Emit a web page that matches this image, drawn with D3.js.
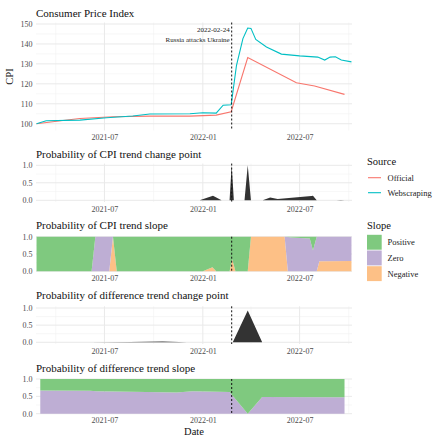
<!DOCTYPE html>
<html>
<head>
<meta charset="utf-8">
<script src="https://cdn.jsdelivr.net/npm/d3@7"></script>
<style>
  body { margin: 0; background: #fff; }
  svg text { font-family: "Liberation Serif", "Times New Roman", serif; }
</style>
</head>
<body>
<svg width="434" height="436"></svg>
<script>
// ---- data ----
const officialDates = ['2021-02-24', '2021-04-22', '2021-05-16', '2021-07-17', '2021-09-24', '2021-12-08',
  '2022-01-26', '2022-02-23', '2022-03-26', '2022-06-25', '2022-07-29', '2022-09-23'];
const officialCPI = [100, 101.9, 102.6, 103.5, 103.8, 103.8, 104.3, 106, 133.2, 120.5, 118.9, 114.7];

const webDates = ['2021-02-24', '2021-03-14', '2021-05-16', '2021-07-05', '2021-08-23', '2021-09-24',
  '2021-12-08', '2022-01-01', '2022-01-26', '2022-02-08', '2022-02-23', '2022-03-05', '2022-03-17',
  '2022-03-26', '2022-04-01', '2022-04-10', '2022-04-30', '2022-05-28', '2022-07-01', '2022-08-04',
  '2022-08-17', '2022-08-27', '2022-09-06', '2022-09-17', '2022-10-06'];
const webCPI = [100, 101.5, 101.8, 103, 103.9, 104.9, 105, 105.5, 105.3, 109.3, 109.5, 129.3, 142.7,
  148, 147.8, 142.3, 138.5, 134.9, 134, 133.4, 131.9, 133.4, 133.6, 131.9, 131];

const cpiChangeDates = ['2021-02-24', '2021-12-26', '2022-01-20', '2022-02-05', '2022-02-20', '2022-02-24',
  '2022-02-28', '2022-03-20', '2022-03-26', '2022-04-01', '2022-04-23', '2022-05-07', '2022-05-21',
  '2022-07-23', '2022-07-26', '2022-08-02', '2022-09-08', '2022-09-16', '2022-09-23', '2022-10-06'];
const cpiChangeProb = [0, 0, 0.13, 0, 0, 1, 0, 0, 1, 0, 0, 0.08, 0.04, 0.12, 0.13, 0, 0, 0.01, 0, 0];

const cpiSlopeDates = ['2021-02-24', '2021-06-07', '2021-06-14', '2021-07-10', '2021-07-17', '2021-07-24',
  '2022-01-01', '2022-01-19', '2022-01-26', '2022-02-20', '2022-02-25', '2022-03-03', '2022-03-26',
  '2022-04-01', '2022-06-03', '2022-06-09', '2022-06-16', '2022-07-20', '2022-07-26', '2022-08-02',
  '2022-08-07', '2022-10-06'];
const cpiSlopeNegative = [0, 0, 0, 0, 1, 0, 0, 0.12, 0, 0, 0.35, 0, 0, 1, 1, 0, 0, 0, 0, 0, 0.29, 0.3];
const cpiSlopeZero     = [0, 0, 1, 1, 0, 0, 0, 0, 0, 0, 0, 0, 0, 0, 0, 0.99, 0.98, 0.95, 0.6, 1, 0.71, 0.7];
const cpiSlopePositive = [1, 1, 0, 0, 0, 1, 1, 0.88, 1, 1, 0.65, 1, 1, 0, 0, 0.01, 0.02, 0.05, 0.4, 0, 0, 0];

const diffChangeDates = ['2021-03-03', '2021-06-04', '2021-08-18', '2021-10-18', '2021-12-02', '2022-02-26',
  '2022-03-26', '2022-04-22', '2022-09-23'];
const diffChangeProb = [0, 0, 0.01, 0.02, 0, 0, 0.93, 0, 0];

const diffSlopeDates = ['2021-03-03', '2021-06-04', '2021-06-16', '2021-09-18', '2021-11-13', '2021-12-13',
  '2022-02-20', '2022-03-26', '2022-04-22', '2022-09-23'];
const diffSlopeNegative = [0, 0, 0, 0, 0, 0, 0, 0, 0, 0];
const diffSlopeZero     = [0.67, 0.66, 0.645, 0.625, 0.61, 0.645, 0.625, 0, 0.48, 0.475];
const diffSlopePositive = [0.33, 0.34, 0.355, 0.375, 0.39, 0.355, 0.375, 1, 0.52, 0.525];

const majorDates = ['2021-07-01', '2022-01-01', '2022-07-01'];
const minorDates = ['2021-04-01', '2021-10-01', '2022-04-01', '2022-10-01'];
const eventDate = '2022-02-24';

const slopeKeys = ['Negative', 'Zero', 'Positive'];
const slopeColors = { Positive: '#7FC97F', Zero: '#BEAED4', Negative: '#FDC086' };
const sourceColors = { Official: '#F8766D', Webscraping: '#00BFC4' };

// ---- scales / helpers ----
const parse = d3.timeParse('%Y-%m-%d');
const svg = d3.select('svg');

const x = d3.scaleTime()
  .domain([parse('2021-02-23'), parse('2022-10-07')])
  .range([36, 352]);

function panel(cfg) {
  const y = d3.scaleLinear().domain(cfg.domain).range([cfg.bottom, cfg.top]);
  const g = svg.append('g');

  // grid
  g.append('g').selectAll('line').data(minorDates).enter().append('line')
    .attr('x1', d => x(parse(d))).attr('x2', d => x(parse(d)))
    .attr('y1', cfg.top).attr('y2', cfg.bottom)
    .attr('stroke', '#f1f1f1').attr('stroke-width', 0.6);
  g.append('g').selectAll('line').data(cfg.minorY).enter().append('line')
    .attr('x1', 36).attr('x2', 352).attr('y1', d => y(d)).attr('y2', d => y(d))
    .attr('stroke', '#f1f1f1').attr('stroke-width', 0.6);
  g.append('g').selectAll('line').data(majorDates).enter().append('line')
    .attr('x1', d => x(parse(d))).attr('x2', d => x(parse(d)))
    .attr('y1', cfg.top).attr('y2', cfg.bottom)
    .attr('stroke', '#e9e9e9').attr('stroke-width', 1);
  g.append('g').selectAll('line').data(cfg.ticksY).enter().append('line')
    .attr('x1', 36).attr('x2', 352).attr('y1', d => y(d)).attr('y2', d => y(d))
    .attr('stroke', '#e9e9e9').attr('stroke-width', 1);

  // axes
  const xa = g.append('g').attr('transform', `translate(0,${cfg.bottom})`)
    .call(d3.axisBottom(x).tickValues(majorDates.map(parse)).tickFormat(d3.timeFormat('%Y-%m')).tickSize(0).tickPadding(4));
  const ya = g.append('g').attr('transform', 'translate(36,0)')
    .call(d3.axisLeft(y).tickValues(cfg.ticksY).tickFormat(cfg.fmt).tickSize(0).tickPadding(3.5));
  [xa, ya].forEach(a => {
    a.select('.domain').remove();
    a.selectAll('text').attr('fill', '#4d4d4d').style('font-size', '8px')
      .style('font-family', '"Liberation Serif", serif');
  });

  svg.append('text').attr('x', 36).attr('y', cfg.titleY)
    .style('font-size', '11px').attr('fill', '#111').text(cfg.title);

  const marks = svg.append('g');
  const vline = () => svg.append('line')
    .attr('x1', x(parse(eventDate))).attr('x2', x(parse(eventDate)))
    .attr('y1', cfg.top).attr('y2', cfg.bottom)
    .attr('stroke', '#111').attr('stroke-width', 1).attr('stroke-dasharray', '2,2');
  return { y, marks, vline };
}

function stackedArea(p, dates, neg, zero, pos) {
  const rows = dates.map((d, i) => ({ date: parse(d), Negative: neg[i], Zero: zero[i], Positive: pos[i] }));
  const series = d3.stack().keys(slopeKeys)(rows);
  const area = d3.area().x(d => x(d.data.date)).y0(d => p.y(d[0])).y1(d => p.y(d[1]));
  p.marks.selectAll('path').data(series).enter().append('path')
    .attr('d', area).attr('fill', d => slopeColors[d.key]);
}

function probArea(p, dates, vals) {
  const rows = dates.map((d, i) => ({ date: parse(d), v: vals[i] }));
  p.marks.append('path').datum(rows)
    .attr('d', d3.area().x(d => x(d.date)).y0(p.y(0)).y1(d => p.y(d.v)))
    .attr('fill', '#333333');
}

const fmt1 = d3.format('.1f');
const probTicks = [0, 0.5, 1];
const probMinor = [0.25, 0.75];

// ---- panel 1: CPI ----
const p1 = panel({ title: 'Consumer Price Index', titleY: 16.5, top: 22.5, bottom: 130.5,
  domain: [96.6, 150.75], ticksY: [100, 110, 120, 130, 140, 150], minorY: [105, 115, 125, 135, 145],
  fmt: d3.format('d') });
const line = d3.line().x(d => x(d.date)).y(d => p1.y(d.v));
[['Official', officialDates, officialCPI], ['Webscraping', webDates, webCPI]].forEach(([name, ds, vs]) => {
  p1.marks.append('path').datum(ds.map((d, i) => ({ date: parse(d), v: vs[i] })))
    .attr('d', line).attr('fill', 'none').attr('stroke', sourceColors[name]).attr('stroke-width', 1.1);
});
p1.vline();
svg.append('text').attr('x', x(parse(eventDate)) - 2).attr('y', 32.3).attr('text-anchor', 'end')
  .style('font-size', '7px').attr('fill', '#222').text('2022-02-24');
svg.append('text').attr('x', x(parse(eventDate)) - 2).attr('y', 41.6).attr('text-anchor', 'end')
  .style('font-size', '7px').attr('fill', '#222').text('Russia attacks Ukraine');
svg.append('text').attr('transform', 'translate(13,76.5) rotate(-90)').attr('text-anchor', 'middle')
  .style('font-size', '10.5px').attr('fill', '#111').text('CPI');

// ---- panel 2: CPI change point ----
const p2 = panel({ title: 'Probability of CPI trend change point', titleY: 157.8, top: 163.55, bottom: 202.05,
  domain: [-0.05, 1.05], ticksY: probTicks, minorY: probMinor, fmt: fmt1 });
probArea(p2, cpiChangeDates, cpiChangeProb);
p2.vline();

// ---- panel 3: CPI slope ----
const p3 = panel({ title: 'Probability of CPI trend slope', titleY: 228.5, top: 236.7, bottom: 271.3,
  domain: [0, 1], ticksY: probTicks, minorY: probMinor, fmt: fmt1 });
stackedArea(p3, cpiSlopeDates, cpiSlopeNegative, cpiSlopeZero, cpiSlopePositive);
p3.vline();

// ---- panel 4: difference change point ----
const p4 = panel({ title: 'Probability of difference trend change point', titleY: 299.3, top: 306.3, bottom: 344,
  domain: [-0.05, 1.05], ticksY: probTicks, minorY: probMinor, fmt: fmt1 });
probArea(p4, diffChangeDates, diffChangeProb);
p4.vline();

// ---- panel 5: difference slope ----
const p5 = panel({ title: 'Probability of difference trend slope', titleY: 371.8, top: 379, bottom: 413.7,
  domain: [0, 1], ticksY: probTicks, minorY: probMinor, fmt: fmt1 });
stackedArea(p5, diffSlopeDates, diffSlopeNegative, diffSlopeZero, diffSlopePositive);
p5.vline();

svg.append('text').attr('x', 194).attr('y', 435).attr('text-anchor', 'middle')
  .style('font-size', '10.5px').attr('fill', '#111').text('Date');

// ---- legends ----
const leg = svg.append('g');
leg.append('text').attr('x', 367).attr('y', 164.5).style('font-size', '10.5px').attr('fill', '#111').text('Source');
Object.keys(sourceColors).forEach((k, i) => {
  const cy = 177.7 + i * 15;
  leg.append('line').attr('x1', 368).attr('x2', 381).attr('y1', cy).attr('y2', cy)
    .attr('stroke', sourceColors[k]).attr('stroke-width', 1.1);
  leg.append('text').attr('x', 387.5).attr('y', cy).attr('dy', '0.33em')
    .style('font-size', '8.5px').attr('fill', '#222').text(k);
});
leg.append('text').attr('x', 367).attr('y', 228.5).style('font-size', '10.5px').attr('fill', '#111').text('Slope');
['Positive', 'Zero', 'Negative'].forEach((k, i) => {
  const top = 234.8 + i * 15.7;
  leg.append('rect').attr('x', 367).attr('y', top).attr('width', 14.7).attr('height', 14.9)
    .attr('fill', slopeColors[k]);
  leg.append('text').attr('x', 387.5).attr('y', top + 7.6).attr('dy', '0.33em')
    .style('font-size', '8.5px').attr('fill', '#222').text(k);
});
</script>
</body>
</html>
